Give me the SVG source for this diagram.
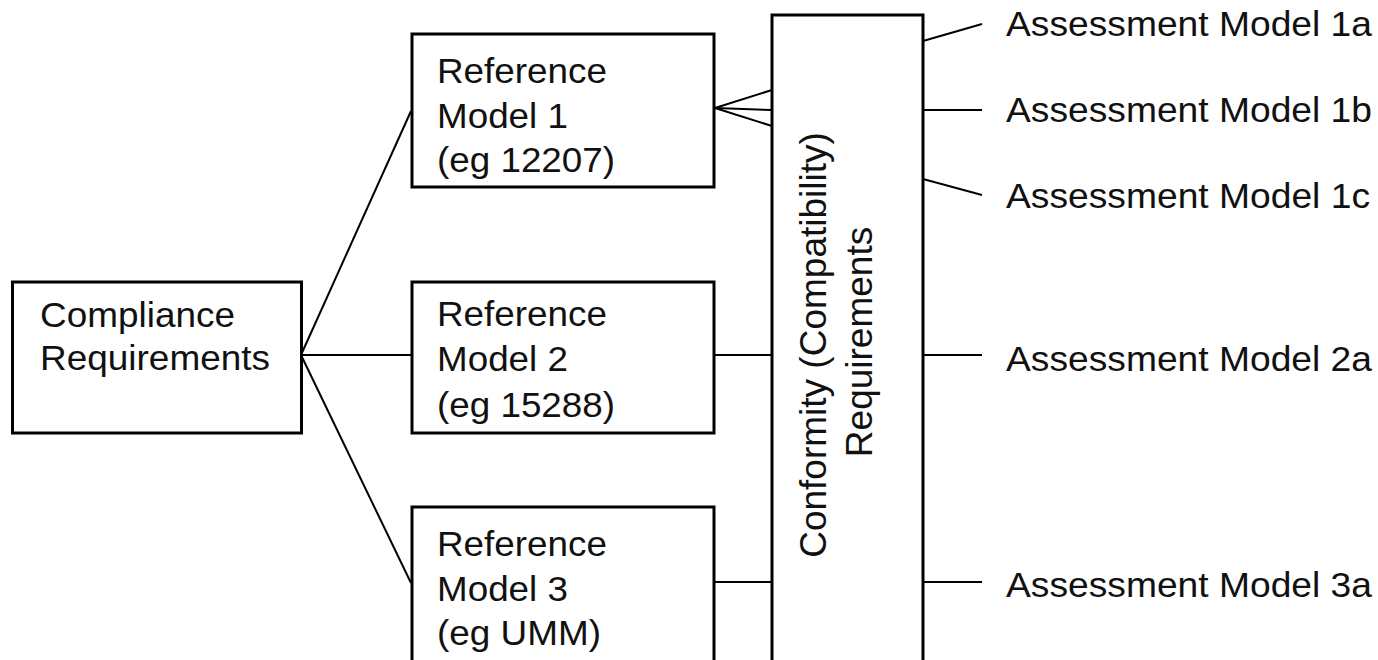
<svg xmlns="http://www.w3.org/2000/svg" width="1378" height="660" viewBox="0 0 1378 660">
<style>
.box{fill:#fff;stroke:#000;stroke-width:3}
.t{font-family:"Liberation Sans",Arial,Helvetica,sans-serif;font-size:35px;fill:#111}
.rt{font-family:"Liberation Sans",Arial,Helvetica,sans-serif;font-size:37px;fill:#111;text-anchor:middle}
.c{stroke:#000;stroke-width:2;fill:none}
</style>
<rect width="1378" height="660" fill="#fff"/>
<g id="connectors">
<line class="c" x1="301" y1="355" x2="411" y2="111"/>
<line class="c" x1="301" y1="355" x2="411" y2="355"/>
<line class="c" x1="301" y1="355" x2="411" y2="583"/>
<line class="c" x1="715" y1="108" x2="772" y2="90"/>
<line class="c" x1="715" y1="108" x2="772" y2="110"/>
<line class="c" x1="715" y1="108" x2="772" y2="126"/>
<line class="c" x1="714" y1="355" x2="772" y2="355"/>
<line class="c" x1="714" y1="582" x2="772" y2="582"/>
<line class="c" x1="923" y1="41" x2="982" y2="24"/>
<line class="c" x1="923" y1="110" x2="982" y2="110"/>
<line class="c" x1="923" y1="179" x2="982" y2="195"/>
<line class="c" x1="923" y1="355" x2="982" y2="355"/>
<line class="c" x1="923" y1="582" x2="982" y2="582"/>
</g>
<g id="compliance">
<rect class="box" x="12.5" y="282" width="289" height="151"/>
<text class="t" x="40" y="327" textLength="195" lengthAdjust="spacingAndGlyphs">Compliance</text>
<text class="t" x="40" y="370" textLength="230" lengthAdjust="spacingAndGlyphs">Requirements</text>
</g>
<g id="ref1">
<rect class="box" x="412" y="34" width="302" height="153"/>
<text class="t" x="437" y="83" textLength="170" lengthAdjust="spacingAndGlyphs">Reference</text>
<text class="t" x="437" y="128" textLength="131" lengthAdjust="spacingAndGlyphs">Model 1</text>
<text class="t" x="437" y="172" textLength="178" lengthAdjust="spacingAndGlyphs">(eg 12207)</text>
</g>
<g id="ref2">
<rect class="box" x="412" y="282" width="302" height="151"/>
<text class="t" x="437" y="326" textLength="170" lengthAdjust="spacingAndGlyphs">Reference</text>
<text class="t" x="437" y="371" textLength="131" lengthAdjust="spacingAndGlyphs">Model 2</text>
<text class="t" x="437" y="417" textLength="178" lengthAdjust="spacingAndGlyphs">(eg 15288)</text>
</g>
<g id="ref3">
<rect class="box" x="412" y="507" width="302" height="180"/>
<text class="t" x="437" y="556" textLength="170" lengthAdjust="spacingAndGlyphs">Reference</text>
<text class="t" x="437" y="601" textLength="131" lengthAdjust="spacingAndGlyphs">Model 3</text>
<text class="t" x="437" y="645" textLength="164" lengthAdjust="spacingAndGlyphs">(eg UMM)</text>
</g>
<g id="conformity">
<rect class="box" x="772" y="15" width="151" height="700"/>
<text class="rt" transform="translate(826,345) rotate(-90)">Conformity (Compatibility)</text>
<text class="rt" transform="translate(872,342) rotate(-90)">Requirements</text>
</g>
<g id="am1a"><text class="t" x="1006" y="36" textLength="366" lengthAdjust="spacingAndGlyphs">Assessment Model 1a</text></g>
<g id="am1b"><text class="t" x="1006" y="122" textLength="366" lengthAdjust="spacingAndGlyphs">Assessment Model 1b</text></g>
<g id="am1c"><text class="t" x="1006" y="208" textLength="364" lengthAdjust="spacingAndGlyphs">Assessment Model 1c</text></g>
<g id="am2a"><text class="t" x="1006" y="371" textLength="366" lengthAdjust="spacingAndGlyphs">Assessment Model 2a</text></g>
<g id="am3a"><text class="t" x="1006" y="597" textLength="366" lengthAdjust="spacingAndGlyphs">Assessment Model 3a</text></g>
</svg>
